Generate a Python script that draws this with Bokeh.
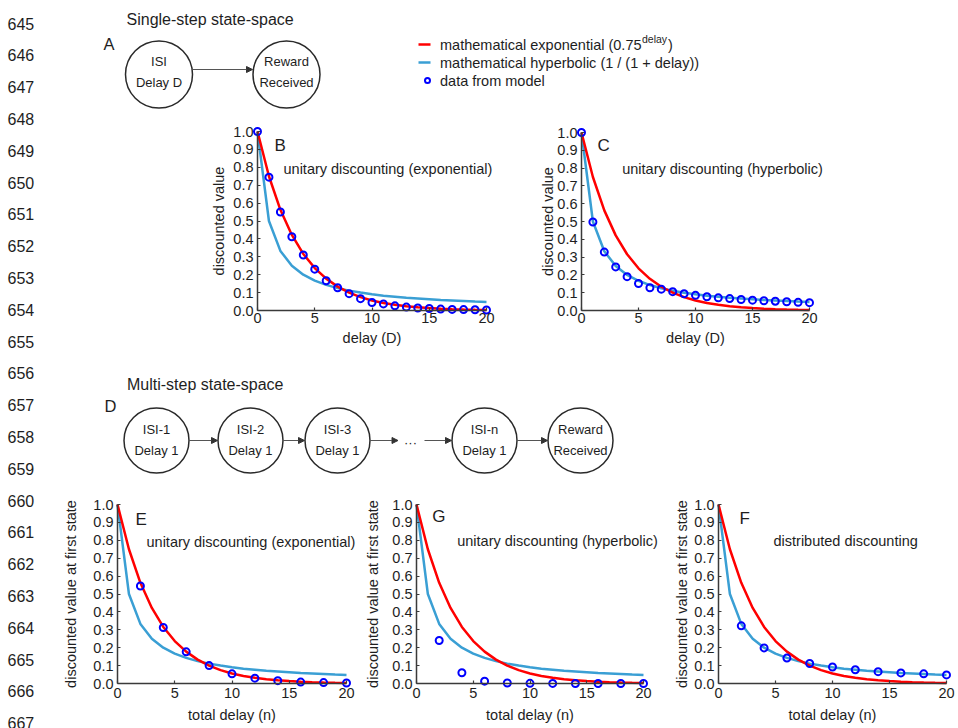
from math import pi
from bokeh.plotting import figure
from bokeh.layouts import row, column
from bokeh.models import Range1d, FixedTicker, Arrow, NormalHead, Label, Spacer
from bokeh.core.properties import value
from bokeh.embed import file_html
from bokeh.resources import INLINE

FONT = "Liberation Sans"
TXT = "#1e1e1e"
RED = "#ff0000"
SKY = "#3a9fd4"
PT = "#0000ff"
AX = "#3a3a3a"

# ---------------- data ----------------
delay = [0, 1, 2, 3, 4, 5, 6, 7, 8, 9, 10, 11, 12, 13, 14, 15, 16, 17, 18, 19, 20]
exp_curve = [1.0, 0.75, 0.5625, 0.422, 0.316, 0.237, 0.178, 0.1335, 0.100, 0.075, 0.056,
             0.042, 0.032, 0.024, 0.018, 0.0134, 0.010, 0.0075, 0.0056, 0.0042, 0.0032]
hyp_curve = [1.0, 0.5, 0.333, 0.25, 0.2, 0.167, 0.143, 0.125, 0.111, 0.1, 0.091,
             0.083, 0.077, 0.071, 0.067, 0.063, 0.059, 0.056, 0.053, 0.05, 0.048]
model_b = [1.0, 0.745, 0.55, 0.412, 0.31, 0.231, 0.166, 0.127, 0.094, 0.066, 0.045,
           0.037, 0.026, 0.019, 0.014, 0.011, 0.008, 0.006, 0.005, 0.004, 0.003]
model_c = [1.0, 0.497, 0.328, 0.245, 0.19, 0.152, 0.128, 0.12, 0.106, 0.094, 0.085,
           0.077, 0.071, 0.067, 0.062, 0.058, 0.055, 0.052, 0.049, 0.046, 0.044]
total_delay = [2, 4, 6, 8, 10, 12, 14, 16, 18, 20]
model_e = [0.545, 0.313, 0.177, 0.100, 0.054, 0.030, 0.016, 0.008, 0.005, 0.003]
model_g = [0.240, 0.060, 0.013, 0.003, 0.001, 0.0005, 0.0003, 0.0002, 0.0001, 0.0]
model_f = [0.322, 0.199, 0.142, 0.112, 0.092, 0.077, 0.066, 0.059, 0.054, 0.048]

x_ticks = [0, 5, 10, 15, 20]
x_tick_labels = ["0", "5", "10", "15", "20"]
y_ticks = [0.0, 0.1, 0.2, 0.3, 0.4, 0.5, 0.6, 0.7, 0.8, 0.9, 1.0]
y_tick_labels = ["0.0", "0.1", "0.2", "0.3", "0.4", "0.5", "0.6", "0.7", "0.8", "0.9", "1.0"]

legend_labels = ["mathematical exponential (0.75", "mathematical hyperbolic (1 / (1 + delay))",
                 "data from model"]
single_top = ["ISI", "Reward"]
single_bottom = ["Delay D", "Received"]
multi_top = ["ISI-1", "ISI-2", "ISI-3", "ISI-n", "Reward"]
multi_bottom = ["Delay 1", "Delay 1", "Delay 1", "Delay 1", "Received"]
line_numbers = [str(n) for n in range(645, 668)]


# ---------------- helpers ----------------
def canvas(x_left, width, y_top, height):
    p = figure(width=width, height=height,
               x_range=Range1d(x_left, x_left + width),
               y_range=Range1d(y_top + height, y_top),
               min_border=0, x_axis_type=None, y_axis_type=None,
               output_backend="svg", toolbar_location=None)
    p.outline_line_color = None
    p.grid.visible = False
    return p


def put_text(p, xs, ys, texts, size, align="left", baseline="middle", color=TXT):
    p.text(x=xs, y=ys, text=texts, text_font=value(FONT), text_font_size=size,
           text_align=align, text_baseline=baseline, text_color=color)


def subplot(fx, fw, fy, fh, x0, x20, y1, y0, xstand):
    """Frame covers the whole figure; axes are pinned at data 0."""
    sx = (x20 - x0) / 20.0
    sy = float(y0 - y1)
    p = figure(frame_width=fw, frame_height=fh, min_border=0,
               x_range=Range1d((fx - x0) / sx, (fx + fw - x0) / sx),
               y_range=Range1d((y0 - (fy + fh)) / sy, (y0 - fy) / sy),
               output_backend="svg", toolbar_location=None)
    p.outline_line_color = None
    p.xgrid.visible = False
    p.ygrid.visible = False
    for ax, ticks, labels, bnds in ((p.xaxis[0], x_ticks, x_tick_labels, (0, 20)),
                                    (p.yaxis[0], y_ticks, y_tick_labels, (0, 1))):
        ax.ticker = FixedTicker(ticks=ticks)
        ax.major_label_overrides = dict(zip(ticks, labels))
        ax.bounds = bnds
        ax.fixed_location = 0
        ax.axis_line_color = AX
        ax.axis_line_width = 1.5
        ax.major_tick_in = 3
        ax.major_tick_out = 0
        ax.major_tick_line_color = AX
        ax.major_tick_line_width = 1.2
        ax.minor_tick_line_color = None
        ax.major_label_text_font = FONT
        ax.major_label_text_font_size = "14.5px"
        ax.major_label_text_color = TXT
    p.xaxis.major_label_standoff = xstand
    p.yaxis.major_label_standoff = 4

    def conv(px, py):
        return (px - x0) / sx, (y0 - py) / sy
    center = ((x0 + x20) / 2.0, (y0 + y1) / 2.0)
    return p, conv, center


def decorate(p, conv, center, letter, lpos, subtitle, spos, xlabel, xly, ylabel, ylx):
    lx, ly = conv(*lpos)
    p.add_layout(Label(x=lx, y=ly, text=letter, text_font=FONT, text_font_size="17px",
                       text_color=TXT, text_baseline="alphabetic", text_align="left"))
    sx_, sy_ = conv(*spos)
    p.add_layout(Label(x=sx_, y=sy_, text=subtitle, text_font=FONT, text_font_size="14.5px",
                       text_color=TXT, text_baseline="alphabetic", text_align="left"))
    cx, cy = center
    ax_, ay_ = conv(cx, xly)
    p.add_layout(Label(x=ax_, y=ay_, text=xlabel, text_font=FONT, text_font_size="14.5px",
                       text_color=TXT, text_baseline="middle", text_align="center"))
    bx_, by_ = conv(ylx, cy)
    p.add_layout(Label(x=bx_, y=by_, text=ylabel, text_font=FONT, text_font_size="14.5px",
                       text_color=TXT, text_baseline="middle", text_align="center", angle=pi / 2))


def curves(p):
    p.line(delay, hyp_curve, line_color=SKY, line_width=2.5)
    p.line(delay, exp_curve, line_color=RED, line_width=2.5)


def points(p, xs, ys):
    p.scatter(xs, ys, marker="circle", size=7, line_color=PT, line_width=2, fill_color=None)


def arrow(p, x1, y1, x2, y2):
    p.add_layout(Arrow(end=NormalHead(size=6, fill_color="#333333", line_color="#333333"),
                       x_start=x1, y_start=y1, x_end=x2, y_end=y2,
                       line_color="#555555", line_width=1.2))


# ---------------- line-number strip ----------------
strip = canvas(0, 58, 0, 728)
put_text(strip, [7] * len(line_numbers), [23 + 31.8 * i for i in range(len(line_numbers))],
         line_numbers, "16px")

# ---------------- panel A (single-step diagram + legend) ----------------
figA = canvas(58, 900, 0, 118)
put_text(figA, [126], [19], ["Single-step state-space"], "16px", baseline="alphabetic")
put_text(figA, [103], [43], ["A"], "16.5px", baseline="alphabetic")
a_cx = [158.5, 286.0]
figA.circle(x=a_cx, y=[74, 74], radius=33.5, fill_color="white", line_color="#2a2a2a",
            line_width=1.5)
put_text(figA, a_cx, [61, 61], single_top, "13px", align="center")
put_text(figA, a_cx, [82, 82], single_bottom, "13px", align="center")
arrow(figA, a_cx[0] + 33.5, 69, a_cx[1] - 34, 69)
# legend
figA.segment(x0=[418], y0=[44], x1=[430], y1=[44], line_color=RED, line_width=2.5)
figA.segment(x0=[418], y0=[62], x1=[430], y1=[62], line_color=SKY, line_width=2.5)
figA.scatter([427], [80], marker="circle", size=5, line_color=PT, line_width=2, fill_color=None)
put_text(figA, [439.5, 439.5, 439.5], [44, 62, 80], legend_labels, "14.5px")
put_text(figA, [641.5], [38.5], ["delay"], "10.5px")
put_text(figA, [667.5], [44], [")"], "14.5px")

# ---------------- panels B and C ----------------
pB, cB, mB = subplot(200, 320, 118, 242, 257, 486, 131, 310, 2)
curves(pB)
points(pB, delay, model_b)
decorate(pB, cB, mB, "B", (274, 145), "unitary discounting (exponential)", (283, 168.5),
         "delay (D)", 337, "discounted value", 218)

pC, cC, mC = subplot(520, 320, 118, 242, 581, 809, 132, 310, 2)
curves(pC)
points(pC, delay, model_c)
decorate(pC, cC, mC, "C", (597, 145), "unitary discounting (hyperbolic)", (621.7, 168.5),
         "delay (D)", 337, "discounted value", 547.5)

rowB = row(Spacer(width=142, height=242), pB, pC, Spacer(width=118, height=242))

# ---------------- panel D (multi-step diagram) ----------------
figD = canvas(58, 900, 360, 122)
put_text(figD, [126.5], [384], ["Multi-step state-space"], "16px", baseline="alphabetic")
put_text(figD, [104], [405], ["D"], "16.5px", baseline="alphabetic")
d_cx = [156, 250, 337, 484, 580]
d_cy = 440
R = 32.5
figD.circle(x=d_cx, y=[d_cy] * 5, radius=R, fill_color="white", line_color="#2a2a2a",
            line_width=1.5)
put_text(figD, d_cx, [d_cy - 11] * 5, multi_top, "13px", align="center")
put_text(figD, d_cx, [d_cy + 10] * 5, multi_bottom, "13px", align="center")
arrow(figD, d_cx[0] + R, d_cy, d_cx[1] - R - 0.5, d_cy)
arrow(figD, d_cx[1] + R, d_cy, d_cx[2] - R - 0.5, d_cy)
arrow(figD, d_cx[2] + R, d_cy, d_cx[2] + R + 28, d_cy)
put_text(figD, [410], [d_cy + 2], ["\u00b7\u00b7\u00b7"], "13px", align="center")
arrow(figD, 424, d_cy, d_cx[3] - R - 0.5, d_cy)
arrow(figD, d_cx[3] + R, d_cy, d_cx[4] - R - 0.5, d_cy)

# ---------------- panels E, G, F ----------------
YL2 = "discounted value at first state"
XL2 = "total delay (n)"
pE, cE, mE = subplot(58, 302, 482, 246, 117, 346, 504, 683, 4)
curves(pE)
points(pE, total_delay, model_e)
decorate(pE, cE, mE, "E", (135, 519), "unitary discounting (exponential)", (146, 541),
         XL2, 714, YL2, 70)

pG, cG, mG = subplot(360, 300, 482, 246, 416, 643, 504, 683, 4)
curves(pG)
points(pG, total_delay, model_g)
decorate(pG, cG, mG, "G", (431.7, 516), "unitary discounting (hyperbolic)", (456.7, 540.5),
         XL2, 714, YL2, 372.7)

pF, cF, mF = subplot(660, 298, 482, 246, 718, 946, 504, 683, 4)
curves(pF)
points(pF, total_delay, model_f)
decorate(pF, cF, mF, "F", (739, 518), "distributed discounting", (773, 540.5),
         XL2, 714, YL2, 681.7)

rowE = row(pE, pG, pF)

layout = row(strip, column(figA, rowB, figD, rowE))
open("out.html", "w").write(file_html(layout, INLINE))
